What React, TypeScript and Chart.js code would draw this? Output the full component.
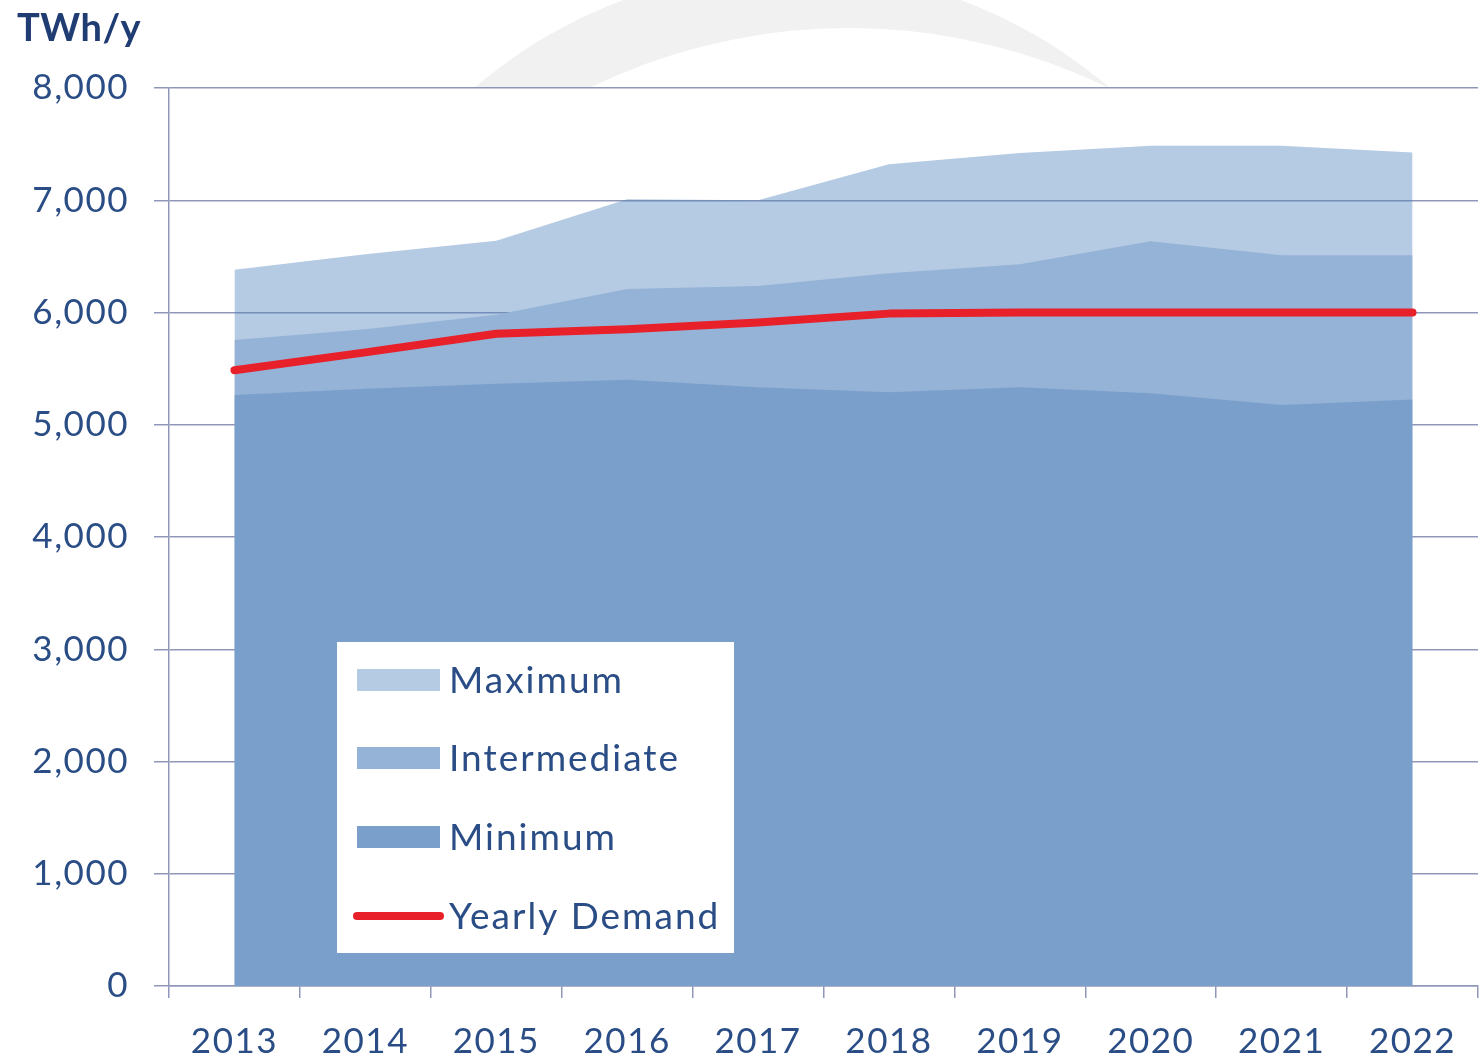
import React, { useEffect, useRef } from "react";
import { Chart, registerables } from "chart.js";

Chart.register(...registerables);

const categories = ["2013", "2014", "2015", "2016", "2017", "2018", "2019", "2020", "2021", "2022"];
const maximumValues = [6380, 6520, 6640, 7010, 7000, 7320, 7420, 7485, 7485, 7425];
const intermediateValues = [5755, 5850, 5980, 6210, 6235, 6350, 6430, 6635, 6510, 6510];
const minimumValues = [5265, 5320, 5365, 5400, 5335, 5290, 5335, 5280, 5175, 5225];
const demandValues = [5485, 5645, 5810, 5850, 5910, 5990, 6000, 6000, 6000, 6000];
const yMin = 0;
const yMax = 8000;
const yStep = 1000;
const unitLabel = "TWh/y";

const FONT = "Lato, 'Open Sans', sans-serif";
const TEXT = "#2a4d86";
const GRID = "#8f97b9";

const spacingPlugin = {
  id: "spacing",
  beforeDraw(chart: any) {
    (chart.ctx as any).letterSpacing = "1.5px";
  },
};

const watermarkPlugin = {
  id: "watermark",
  beforeDraw(chart: any) {
    const { ctx, chartArea } = chart;
    ctx.save();
    ctx.beginPath();
    ctx.rect(0, 0, chart.width, chartArea.top);
    ctx.clip();
    ctx.beginPath();
    ctx.arc(792, 457, 487, 0, Math.PI * 2);
    ctx.arc(849, 621, 593, 0, Math.PI * 2, true);
    ctx.fillStyle = "#f1f1f1";
    ctx.fill("evenodd");
    ctx.restore();
  },
};

const titlePlugin = {
  id: "unitTitle",
  afterDraw(chart: any) {
    const { ctx } = chart;
    ctx.save();
    (ctx as any).letterSpacing = "0.5px";
    ctx.font = `bold 38px ${FONT}`;
    ctx.fillStyle = "#1f3d73";
    ctx.textAlign = "left";
    ctx.textBaseline = "alphabetic";
    ctx.fillText(unitLabel, 17, 41);
    ctx.restore();
  },
};

const legendPlugin = {
  id: "boxLegend",
  afterDraw(chart: any) {
    const { ctx } = chart;
    const ds = chart.data.datasets;
    const items = [ds[3], ds[2], ds[1], ds[0]];
    ctx.save();
    ctx.fillStyle = "#ffffff";
    ctx.fillRect(337, 642, 397, 311);
    const rowY = [680, 758, 837, 916];
    items.forEach((d: any, i: number) => {
      const cy = rowY[i];
      if (d.fill) {
        ctx.fillStyle = "#ffffff";
        ctx.fillRect(357, cy - 11, 83, 22);
        ctx.fillStyle = d.backgroundColor;
        ctx.fillRect(357, cy - 11, 83, 22);
      } else {
        ctx.strokeStyle = d.borderColor;
        ctx.lineWidth = 8;
        ctx.lineCap = "round";
        ctx.beginPath();
        ctx.moveTo(357, cy);
        ctx.lineTo(440, cy);
        ctx.stroke();
      }
      ctx.fillStyle = TEXT;
      (ctx as any).letterSpacing = "2px";
      ctx.font = `37px ${FONT}`;
      ctx.textAlign = "left";
      ctx.textBaseline = "alphabetic";
      ctx.fillText(d.label, 449, cy + 13);
    });
    ctx.restore();
  },
};

export default function App() {
  const ref = useRef<HTMLCanvasElement | null>(null);
  useEffect(() => {
    document.body.style.margin = "0";
    const canvas = ref.current;
    if (!canvas) return;
    const chart = new Chart(canvas, {
      type: "line",
      data: {
        labels: categories,
        datasets: [
          {
            label: "Yearly Demand",
            data: demandValues,
            borderColor: "#e8202a",
            backgroundColor: "#e8202a",
            borderWidth: 8,
            borderCapStyle: "round",
            borderJoinStyle: "round",
            pointRadius: 0,
            tension: 0,
            fill: false,
          },
          {
            label: "Minimum",
            data: minimumValues,
            borderColor: "rgba(0,0,0,0)",
            backgroundColor: "#7b9fcb",
            borderWidth: 1,
            pointRadius: 0,
            tension: 0,
            fill: "origin",
          },
          {
            label: "Intermediate",
            data: intermediateValues,
            borderColor: "rgba(0,0,0,0)",
            backgroundColor: "#95b3d7",
            borderWidth: 1,
            pointRadius: 0,
            tension: 0,
            fill: "origin",
          },
          {
            label: "Maximum",
            data: maximumValues,
            borderColor: "rgba(0,0,0,0)",
            backgroundColor: "rgba(79,129,189,0.42)",
            borderWidth: 1,
            pointRadius: 0,
            tension: 0,
            fill: "origin",
          },
        ],
      },
      options: {
        responsive: false,
        animation: false,
        devicePixelRatio: 1,
        layout: { padding: { top: 88, right: 2, left: 0, bottom: 0 } },
        plugins: {
          legend: { display: false },
          tooltip: { enabled: false },
          title: { display: false },
        },
        scales: {
          x: {
            type: "category",
            offset: true,
            grid: {
              offset: true,
              drawOnChartArea: false,
              drawTicks: true,
              tickLength: 12,
              color: GRID,
              lineWidth: 1.5,
            },
            border: { display: true, color: GRID, width: 1.5 },
            ticks: {
              color: TEXT,
              font: { family: FONT, size: 35 },
              padding: 23,
              maxRotation: 0,
              autoSkip: false,
            },
            afterFit(scale: any) {
              scale.height = 75;
            },
          },
          y: {
            min: yMin,
            max: yMax,
            grid: {
              color: GRID,
              lineWidth: 1.5,
              tickLength: 15,
              drawTicks: true,
            },
            border: { display: true, color: GRID, width: 1.5 },
            ticks: {
              stepSize: yStep,
              color: TEXT,
              font: { family: FONT, size: 35 },
              padding: 25,
              callback: (v: any) => Number(v).toLocaleString("en-US"),
            },
            afterFit(scale: any) {
              scale.width = 169;
            },
          },
        },
      },
      plugins: [spacingPlugin, watermarkPlugin, titlePlugin, legendPlugin],
    });
    return () => chart.destroy();
  }, []);
  return (
    <div style={{ width: 1480, height: 1061, position: "relative", background: "#ffffff" }}>
      <canvas ref={ref} width={1480} height={1061} style={{ display: "block" }} />
    </div>
  );
}
